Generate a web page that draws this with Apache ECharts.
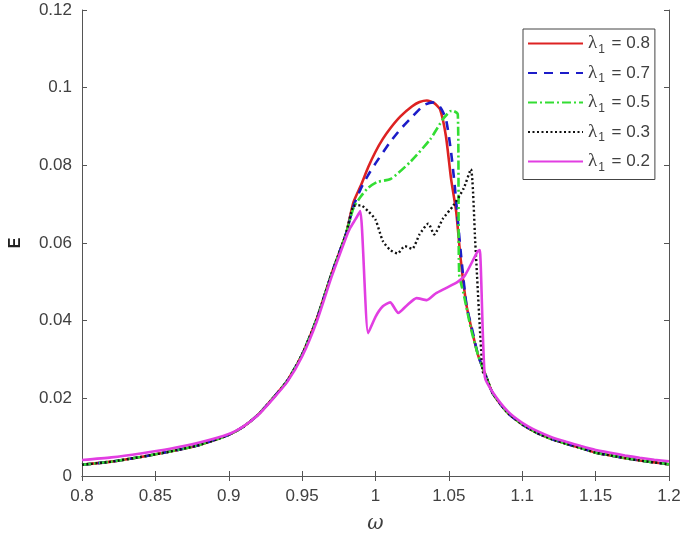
<!DOCTYPE html>
<html>
<head>
<meta charset="utf-8">
<script src="https://cdn.jsdelivr.net/npm/echarts@6/dist/echarts.min.js"></script>
<style>
  html, body { margin: 0; padding: 0; background: #fff; }
  #chart { width: 685px; height: 539px; }
</style>
</head>
<body>
<div id="chart"></div>
<script>
// shared rising branch (omega, E)
const riseW = [0.80, 0.82, 0.84, 0.86, 0.88, 0.90, 0.91, 0.92, 0.93, 0.94, 0.95, 0.96, 0.97, 0.98]
const riseE = [0.0029, 0.0037, 0.0049, 0.0063, 0.0080, 0.0106, 0.0127, 0.0158, 0.0200, 0.0246, 0.0313, 0.0405, 0.0520, 0.0625]
const riseEMag = [0.0041, 0.0048, 0.0058, 0.0070, 0.0086, 0.0108, 0.0128, 0.0157, 0.0198, 0.0243, 0.0308, 0.0398, 0.0512, 0.0615]

// shared tail
const tailW = [1.08, 1.09, 1.10, 1.11, 1.12, 1.13, 1.14, 1.15, 1.16, 1.17, 1.18, 1.19, 1.20]
const tailE = [0.0212, 0.0163, 0.0133, 0.0111, 0.0095, 0.0083, 0.0072, 0.0060, 0.0053, 0.0046, 0.0040, 0.0035, 0.0030]
const tailEMag = [0.0215, 0.0167, 0.0137, 0.0116, 0.0100, 0.0088, 0.0077, 0.0067, 0.0060, 0.0053, 0.0047, 0.0042, 0.0038]

// peak region of each curve
const redW = [0.985, 0.99, 0.995, 1.0, 1.005, 1.01, 1.017, 1.025, 1.03, 1.035, 1.04, 1.044, 1.048, 1.0515, 1.055, 1.058, 1.062, 1.066, 1.07, 1.075]
const redE = [0.0705, 0.0748, 0.0795, 0.0835, 0.0868, 0.0895, 0.0926, 0.0952, 0.0963, 0.0967, 0.0960, 0.0944, 0.0875, 0.0765, 0.0680, 0.0560, 0.0440, 0.0370, 0.0310, 0.0260]
const blueW = [0.985, 0.99, 0.995, 1.0, 1.01, 1.017, 1.025, 1.033, 1.039, 1.044, 1.048, 1.0515, 1.054, 1.058, 1.062, 1.066, 1.07, 1.075]
const blueE = [0.0695, 0.0740, 0.0775, 0.0805, 0.0860, 0.0893, 0.0925, 0.0955, 0.0962, 0.0950, 0.0919, 0.0834, 0.0747, 0.0580, 0.0440, 0.0375, 0.0310, 0.0260]
const greenW = [0.985, 0.99, 0.995, 1.001, 1.0104, 1.024, 1.0373, 1.046, 1.0508, 1.053, 1.0561, 1.057, 1.06, 1.065, 1.07, 1.075]
const greenE = [0.0690, 0.0720, 0.0742, 0.0757, 0.0765, 0.0810, 0.0867, 0.0919, 0.0939, 0.0940, 0.0931, 0.0520, 0.0470, 0.0380, 0.0310, 0.0260]
const blackW = [0.985, 0.99, 0.995, 1.0, 1.005, 1.01, 1.015, 1.02, 1.025, 1.03, 1.036, 1.04, 1.046, 1.053, 1.06, 1.065, 1.068, 1.073, 1.076]
const blackE = [0.0695, 0.0697, 0.0682, 0.0660, 0.0605, 0.0582, 0.0573, 0.0592, 0.0585, 0.0622, 0.0650, 0.0622, 0.0663, 0.0696, 0.0740, 0.0790, 0.0600, 0.0270, 0.0250]
const magW = [0.9825, 0.9865, 0.9896, 0.995, 1.0, 1.005, 1.01, 1.0155, 1.021, 1.028, 1.035, 1.041, 1.048, 1.056, 1.061, 1.0695, 1.071, 1.0745]
const magE = [0.0637, 0.0662, 0.0682, 0.0368, 0.0410, 0.0437, 0.0447, 0.0420, 0.0438, 0.0458, 0.0453, 0.0470, 0.0484, 0.0500, 0.0517, 0.0578, 0.0582, 0.0255]

const lambdas = ['0.8', '0.7', '0.5', '0.3', '0.2']

function pairs(w, e) {
  return w.map((x, i) => [x, e[i]])
}
function curve(w, e, rE, tE) {
  return pairs(riseW, rE || riseE).concat(pairs(w, e), pairs(tailW, tE || tailE))
}

const styles = [
  { color: '#dd2222', type: 'solid', width: 2.6 },
  { color: '#1c1cc8', type: [9, 7], width: 2.6 },
  { color: '#33dd33', type: [9, 3, 2, 3], width: 2.6 },
  { color: '#111111', type: [2, 2.5], width: 2.4 },
  { color: '#e23ee2', type: 'solid', width: 2.6 }
]
const curves = [
  curve(redW, redE),
  curve(blueW, blueE),
  curve(greenW, greenE),
  curve(blackW, blackE),
  curve(magW, magE, riseEMag, tailEMag)
]

const axisGray = '#555'
const textGray = '#404040'

const chart = echarts.init(document.getElementById('chart'))
chart.setOption({
  animation: false,
  grid: { left: 74, right: 16, top: 10, bottom: 60 },
  legend: {
    orient: 'vertical',
    left: 523,
    top: 29,
    itemWidth: 55,
    itemHeight: 14,
    itemGap: 8,
    padding: [5, 5, 6, 4],
    borderColor: '#444',
    borderWidth: 1,
    backgroundColor: '#fff',
    itemStyle: { opacity: 0 },
    data: lambdas.map(l => 'λ1 = ' + l),
    formatter: name => '{l|λ}{s|1}{t|' + name.slice(2) + '}',
    textStyle: {
      rich: {
        l: { fontFamily: 'Liberation Serif', fontSize: 19, color: textGray },
        s: { fontFamily: 'Liberation Sans', fontSize: 12, color: textGray, padding: [12, 2, 0, 1] },
        t: { fontFamily: 'Liberation Sans', fontSize: 17, color: textGray }
      }
    }
  },
  xAxis: [{
    type: 'value',
    min: 0.8,
    max: 1.2,
    interval: 0.05,
    name: 'ω',
    nameLocation: 'middle',
    nameGap: 38,
    nameTextStyle: { fontFamily: 'DejaVu Serif', fontStyle: 'italic', fontSize: 20, color: textGray },
    axisLine: { lineStyle: { color: axisGray, width: 1 } },
    axisTick: { inside: true, length: 5, lineStyle: { color: axisGray } },
    axisLabel: { fontFamily: 'Liberation Sans', fontSize: 17, color: textGray, margin: 12 },
    splitLine: { show: false }
  }, {
    type: 'value',
    position: 'top',
    min: 0.8,
    max: 1.2,
    interval: 0.05,
    axisLine: { show: true, lineStyle: { color: axisGray, width: 1 } },
    axisTick: { show: true, inside: true, length: 5, lineStyle: { color: axisGray } },
    axisLabel: { show: false },
    splitLine: { show: false }
  }],
  yAxis: [{
    type: 'value',
    min: 0,
    max: 0.12,
    interval: 0.02,
    name: 'E',
    nameLocation: 'middle',
    nameGap: 58,
    nameTextStyle: { fontFamily: 'Liberation Sans', fontWeight: 'bold', fontSize: 16, color: '#222' },
    axisLine: { show: true, lineStyle: { color: axisGray, width: 1 } },
    axisTick: { show: true, inside: true, length: 5, lineStyle: { color: axisGray } },
    axisLabel: { fontFamily: 'Liberation Sans', fontSize: 17, color: textGray, margin: 10 },
    splitLine: { show: false }
  }, {
    type: 'value',
    position: 'right',
    min: 0,
    max: 0.12,
    interval: 0.02,
    axisLine: { show: true, lineStyle: { color: axisGray, width: 1 } },
    axisTick: { show: true, inside: true, length: 5, lineStyle: { color: axisGray } },
    axisLabel: { show: false },
    splitLine: { show: false }
  }],
  series: curves.map((d, i) => ({
    name: 'λ1 = ' + lambdas[i],
    type: 'line',
    data: d,
    showSymbol: false,
    symbol: 'none',
    smooth: 0.2,
    lineStyle: styles[i],
    itemStyle: { color: styles[i].color },
    z: 2 + i
  }))
})
</script>
</body>
</html>
